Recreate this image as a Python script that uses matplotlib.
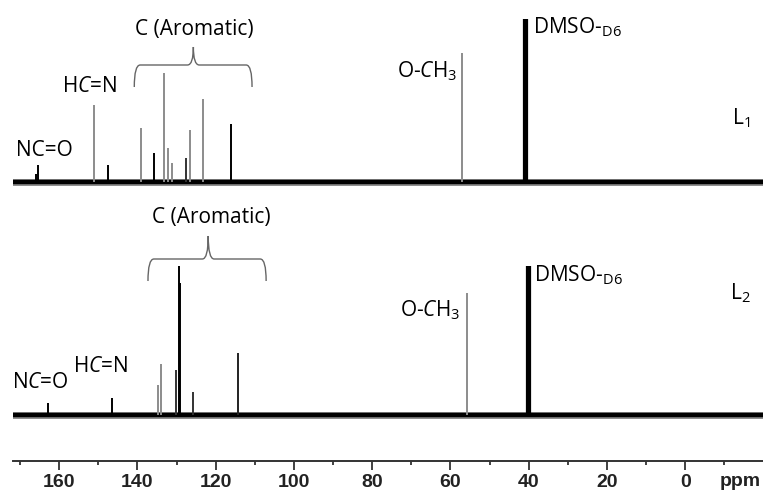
import numpy as np
import matplotlib.pyplot as plt
from matplotlib.path import Path
from matplotlib.patches import PathPatch

plt.rcParams['font.family'] = ['Open Sans', 'DejaVu Sans']
plt.rcParams['mathtext.fontset'] = 'custom'
plt.rcParams['mathtext.rm'] = 'Open Sans'
plt.rcParams['mathtext.it'] = 'Open Sans:italic'

# L1 (top spectrum): peak shifts in ppm and heights (arbitrary units)
l1_ppm = [166.0, 165.4, 151.0, 147.5, 139.0, 135.7, 133.1, 132.1, 131.1,
          127.5, 126.5, 123.2, 116.0, 57.0]
l1_height = [8, 17, 77, 17, 54, 29, 109, 34, 19, 24, 52, 83, 58, 129]
l1_dmso_ppm = [41.1, 40.8, 40.6, 40.3]
l1_dmso_height = [163, 163, 163, 163]

# L2 (bottom spectrum)
l2_ppm = [162.8, 146.4, 134.7, 133.9, 130.1, 129.3, 129.0, 125.7, 114.2, 55.7]
l2_height = [12, 17, 30, 51, 45, 149, 132, 23, 62, 122]
l2_dmso_ppm = [40.4, 40.1, 39.9, 39.6]
l2_dmso_height = [149, 149, 149, 149]

major_ticks = [160, 140, 120, 100, 80, 60, 40, 20, 0]
minor_ticks = [170, 150, 130, 110, 90, 70, 50, 30, 10, -10]

# baselines of the two traces (same units as heights)
L1_BASE = 279
L2_BASE = 46

GRAY = '#8c8c8c'
l1_color = ['k', 'k', GRAY, 'k', GRAY, 'k', GRAY, GRAY, GRAY,
            '#333333', GRAY, GRAY, 'k', GRAY]
l2_color = ['k', 'k', GRAY, GRAY, '#333333', 'k', 'k', '#333333', '#222222', GRAY]

fig = plt.figure(figsize=(7.63, 4.93), dpi=100)
ax = fig.add_axes([13 / 763, 32 / 493, 750 / 763, 461 / 493])
ax.set_xlim(171.8, -19.9)
ax.set_ylim(0, 461)


def draw_trace(base, ppm, height, colors, dmso_ppm, dmso_height):
    ax.axhline(base, color='k', lw=5, alpha=0.45, zorder=2)
    ax.axhline(base, color='k', lw=3.2, zorder=2)
    for p, h, c in zip(ppm, height, colors):
        ax.vlines(p, base, base + h, color=c, lw=1.4, zorder=3)
    ax.vlines(dmso_ppm, base, base + np.array(dmso_height), color='k', lw=1.6, zorder=3)


def brace(x_left, x_right, x_tip, y_end, y_mid, y_tip):
    r = (x_left - x_right) * 0.05
    verts = [(x_left, y_end), (x_left, y_mid), (x_left - r, y_mid),
             (x_tip + r, y_mid), (x_tip, y_mid), (x_tip, y_tip),
             (x_tip, y_mid), (x_tip - r, y_mid),
             (x_right + r, y_mid), (x_right, y_mid), (x_right, y_end)]
    codes = [Path.MOVETO, Path.CURVE3, Path.CURVE3,
             Path.LINETO, Path.CURVE3, Path.CURVE3,
             Path.CURVE3, Path.CURVE3,
             Path.LINETO, Path.CURVE3, Path.CURVE3]
    ax.add_patch(PathPatch(Path(verts, codes), fill=False, color='#666666', lw=1.0))


draw_trace(L1_BASE, l1_ppm, l1_height, l1_color, l1_dmso_ppm, l1_dmso_height)
draw_trace(L2_BASE, l2_ppm, l2_height, l2_color, l2_dmso_ppm, l2_dmso_height)

fs = 15
# top labels
ax.text(171.0, 311, 'NC=O', fontsize=fs, va='center', ha='left')
ax.text(159.2, 374, r'H$\mathit{C}$=N', fontsize=fs, va='center', ha='left')
ax.text(58.3, 390, r'O-$\mathit{C}$H$_\mathregular{3}$', fontsize=fs, va='center', ha='right')
ax.text(38.8, 434, r'DMSO-$_\mathregular{D6}$', fontsize=fs, va='center', ha='left')
ax.text(-12.0, 343, r'L$_\mathregular{1}$', fontsize=fs, va='center', ha='left')
ax.text(125.5, 431, 'C (Aromatic)', fontsize=fs, va='center', ha='center')
brace(140.8, 110.7, 125.7, 374, 396, 414)

# bottom labels
ax.text(172.0, 79, r'N$\mathit{C}$=O', fontsize=fs, va='center', ha='left')
ax.text(156.4, 94, r'H$\mathit{C}$=N', fontsize=fs, va='center', ha='left')
ax.text(57.5, 151, r'O-$\mathit{C}$H$_\mathregular{3}$', fontsize=fs, va='center', ha='right')
ax.text(38.6, 186, r'DMSO-$_\mathregular{D6}$', fontsize=fs, va='center', ha='left')
ax.text(-11.5, 168, r'L$_\mathregular{2}$', fontsize=fs, va='center', ha='left')
ax.text(121.1, 243, 'C (Aromatic)', fontsize=fs, va='center', ha='center')
brace(137.3, 107.1, 121.9, 180, 202, 225)

# ppm axis
for s in ['top', 'right', 'left']:
    ax.spines[s].set_visible(False)
ax.spines['bottom'].set_linewidth(1.4)
ax.spines['bottom'].set_color('#333333')
ax.set_yticks([])
ax.set_xticks(major_ticks)
ax.set_xticks(minor_ticks, minor=True)
ax.tick_params(axis='x', which='major', length=6.5, width=1.3, color='#333333', pad=3)
ax.tick_params(axis='x', which='minor', length=3, width=1.3, color='#333333')
for lbl in ax.get_xticklabels():
    lbl.set_fontfamily(['Liberation Sans', 'DejaVu Sans'])
    lbl.set_fontweight('bold')
    lbl.set_fontsize(14)
    lbl.set_color('#222222')
ax.text(-14, -21, 'ppm', fontsize=14, fontweight='bold', color='#222222',
        family=['Liberation Sans', 'DejaVu Sans'], ha='center', va='center',
        clip_on=False)

fig.savefig('out.png', dpi=100)
